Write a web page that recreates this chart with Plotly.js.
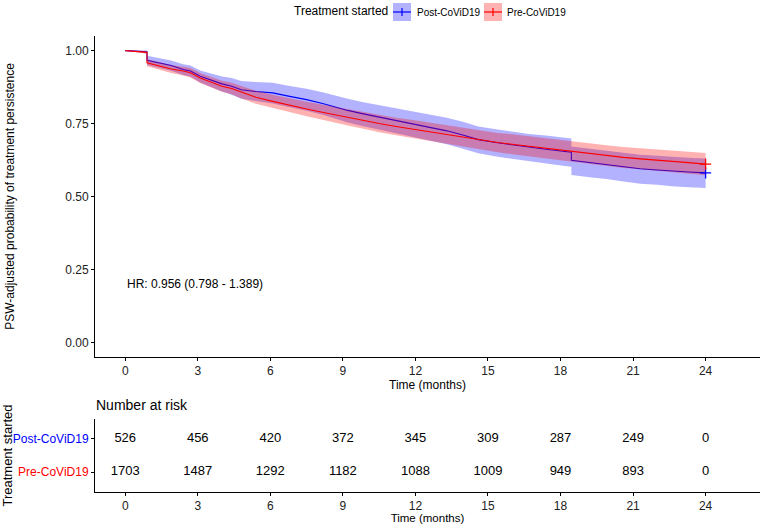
<!DOCTYPE html>
<html>
<head>
<meta charset="utf-8">
<script src="https://cdn.plot.ly/plotly-3.0.1.min.js"></script>
<style>html,body{margin:0;padding:0;background:#fff;}#chart{width:762px;height:524px;}</style>
</head>
<body>
<div id="chart"></div>
<script>
// ---- Data ----
var groups = ['Post-CoViD19', 'Pre-CoViD19'];
var timeMonths = [0, 0.5, 0.9, 0.9, 1.3, 1.9, 2.4, 2.7, 3.1, 3.5, 4.0, 4.4, 4.8, 5.4, 6.1, 6.8, 7.5, 8.2, 8.6, 9.2, 9.8, 10.5, 11.2, 11.9, 12.6, 13.3, 14.0, 14.6, 15.4, 16.0, 16.7, 17.4, 18.1, 18.45, 18.45, 19.2, 19.9, 20.6, 21.3, 22.0, 22.6, 23.3, 24.0];

var postSurv  = [1.000, 0.998, 0.996, 0.967, 0.960, 0.949, 0.935, 0.930, 0.912, 0.900, 0.886, 0.878, 0.866, 0.860, 0.855, 0.843, 0.832, 0.818, 0.808, 0.795, 0.784, 0.772, 0.761, 0.750, 0.738, 0.725, 0.710, 0.695, 0.684, 0.677, 0.668, 0.662, 0.655, 0.652, 0.624, 0.616, 0.610, 0.602, 0.595, 0.591, 0.587, 0.584, 0.581];
var postUpper = [1.000, 1.000, 1.000, 0.982, 0.976, 0.966, 0.953, 0.949, 0.932, 0.922, 0.911, 0.906, 0.896, 0.892, 0.890, 0.879, 0.869, 0.856, 0.847, 0.835, 0.824, 0.813, 0.803, 0.793, 0.782, 0.770, 0.755, 0.740, 0.730, 0.723, 0.714, 0.709, 0.702, 0.699, 0.671, 0.664, 0.658, 0.650, 0.643, 0.640, 0.636, 0.633, 0.630];
var postLower = [1.000, 0.994, 0.990, 0.951, 0.943, 0.931, 0.916, 0.910, 0.891, 0.877, 0.860, 0.849, 0.835, 0.827, 0.819, 0.806, 0.794, 0.779, 0.768, 0.754, 0.742, 0.729, 0.717, 0.705, 0.692, 0.679, 0.663, 0.648, 0.636, 0.629, 0.619, 0.613, 0.605, 0.602, 0.574, 0.566, 0.560, 0.551, 0.544, 0.540, 0.535, 0.532, 0.529];

var preSurv  = [1.000, 0.997, 0.994, 0.958, 0.950, 0.937, 0.930, 0.924, 0.906, 0.893, 0.878, 0.870, 0.857, 0.840, 0.826, 0.812, 0.800, 0.788, 0.781, 0.771, 0.762, 0.750, 0.740, 0.731, 0.722, 0.713, 0.703, 0.694, 0.685, 0.679, 0.672, 0.665, 0.659, 0.655, 0.655, 0.646, 0.640, 0.634, 0.629, 0.625, 0.621, 0.616, 0.611];
var preUpper = [1.000, 1.000, 0.999, 0.970, 0.963, 0.951, 0.945, 0.940, 0.923, 0.911, 0.897, 0.890, 0.878, 0.862, 0.849, 0.836, 0.825, 0.814, 0.808, 0.799, 0.791, 0.780, 0.770, 0.762, 0.753, 0.745, 0.735, 0.727, 0.718, 0.713, 0.706, 0.699, 0.694, 0.690, 0.690, 0.681, 0.676, 0.670, 0.665, 0.662, 0.658, 0.653, 0.649];
var preLower = [1.000, 0.993, 0.989, 0.946, 0.937, 0.923, 0.915, 0.908, 0.889, 0.875, 0.859, 0.850, 0.836, 0.818, 0.803, 0.788, 0.775, 0.762, 0.754, 0.743, 0.733, 0.720, 0.710, 0.700, 0.691, 0.681, 0.671, 0.661, 0.652, 0.645, 0.638, 0.631, 0.624, 0.620, 0.620, 0.611, 0.604, 0.598, 0.593, 0.588, 0.584, 0.579, 0.573];

var censorTime = [24];
var postCensor = [0.581];
var preCensor = [0.611];

var riskTimes = [0, 3, 6, 9, 12, 15, 18, 21, 24];
var postRisk = [526, 456, 420, 372, 345, 309, 287, 249, 0];
var preRisk = [1703, 1487, 1292, 1182, 1088, 1009, 949, 893, 0];

var yTickVals = [0, 0.25, 0.5, 0.75, 1];
var yTickText = ['0.00', '0.25', '0.50', '0.75', '1.00'];
var hrText = 'HR: 0.956 (0.798 - 1.389)';

// ---- Styling ----
var FONT = 'Liberation Sans, Arial, sans-serif';
var BLUE = '#0000FF', RED = '#FF0000';
var BLUE_FILL = 'rgba(0,0,255,0.3)', RED_FILL = 'rgba(255,0,0,0.3)';

function band(up, lo, fill) {
  return [
    {x: timeMonths, y: up, type: 'scatter', mode: 'lines', line: {width: 0}, hoverinfo: 'skip', showlegend: false, xaxis: 'x', yaxis: 'y'},
    {x: timeMonths, y: lo, type: 'scatter', mode: 'lines', line: {width: 0}, fill: 'tonexty', fillcolor: fill, hoverinfo: 'skip', showlegend: false, xaxis: 'x', yaxis: 'y'}
  ];
}
function curve(s, color, name) {
  return {x: timeMonths, y: s, type: 'scatter', mode: 'lines', name: name, line: {color: color, width: 1.1}, showlegend: false, xaxis: 'x', yaxis: 'y'};
}
function censor(y, color) {
  return {x: censorTime, y: y, type: 'scatter', mode: 'markers', marker: {symbol: 'cross-thin', size: 8, line: {color: color, width: 1.3}}, showlegend: false, xaxis: 'x', yaxis: 'y'};
}

var rowPos = {'Post-CoViD19': 2, 'Pre-CoViD19': 1};
var data = [].concat(
  band(postUpper, postLower, BLUE_FILL),
  [curve(postSurv, BLUE, groups[0])],
  band(preUpper, preLower, RED_FILL),
  [curve(preSurv, RED, groups[1])],
  [censor(postCensor, BLUE), censor(preCensor, RED)],
  [
    {x: riskTimes, y: riskTimes.map(function(){return rowPos[groups[0]];}), text: postRisk.map(String), type: 'scatter', mode: 'text', textfont: {family: FONT, size: 13, color: '#000'}, showlegend: false, hoverinfo: 'skip', xaxis: 'x2', yaxis: 'y2'},
    {x: riskTimes, y: riskTimes.map(function(){return rowPos[groups[1]];}), text: preRisk.map(String), type: 'scatter', mode: 'text', textfont: {family: FONT, size: 13, color: '#000'}, showlegend: false, hoverinfo: 'skip', xaxis: 'x2', yaxis: 'y2'}
  ]
);

function makeX(anchor, titleSize, standoff) {
  return {
    anchor: anchor, domain: [0, 1],
    range: [-1.25, 26.25], tickvals: riskTimes, ticktext: riskTimes.map(String),
    ticks: 'outside', ticklen: 3, tickwidth: 1, tickcolor: '#000',
    showline: true, linecolor: '#000', linewidth: 1, zeroline: false, showgrid: false,
    tickfont: {family: FONT, size: 12, color: '#222'},
    title: {text: 'Time (months)', font: {family: FONT, size: titleSize, color: '#000'}, standoff: standoff}
  };
}

// paper-coordinate helpers for the legend
function px(x) { return (x - 95) / 665; }
function py(y) { return (492 - y) / 456; }

var shapes = [
  {type: 'rect', xref: 'paper', yref: 'paper', x0: px(393), x1: px(411), y0: py(21), y1: py(3), fillcolor: BLUE_FILL, line: {width: 0}},
  {type: 'line', xref: 'paper', yref: 'paper', x0: px(393), x1: px(411), y0: py(12), y1: py(12), line: {color: BLUE, width: 1.2}},
  {type: 'line', xref: 'paper', yref: 'paper', x0: px(402), x1: px(402), y0: py(16), y1: py(8), line: {color: BLUE, width: 1.2}},
  {type: 'rect', xref: 'paper', yref: 'paper', x0: px(484), x1: px(502), y0: py(21), y1: py(3), fillcolor: RED_FILL, line: {width: 0}},
  {type: 'line', xref: 'paper', yref: 'paper', x0: px(484), x1: px(502), y0: py(12), y1: py(12), line: {color: RED, width: 1.2}},
  {type: 'line', xref: 'paper', yref: 'paper', x0: px(493), x1: px(493), y0: py(16), y1: py(8), line: {color: RED, width: 1.2}}
];

var annotations = [
  {xref: 'paper', yref: 'paper', x: px(292), y: py(11), xanchor: 'left', yanchor: 'middle', text: 'Treatment started', showarrow: false, font: {family: FONT, size: 12, color: '#000'}},
  {xref: 'paper', yref: 'paper', x: px(415), y: py(12), xanchor: 'left', yanchor: 'middle', text: groups[0], showarrow: false, font: {family: FONT, size: 10, color: '#000'}},
  {xref: 'paper', yref: 'paper', x: px(505), y: py(12), xanchor: 'left', yanchor: 'middle', text: groups[1], showarrow: false, font: {family: FONT, size: 10, color: '#000'}},
  {xref: 'x', yref: 'y', x: 0, y: 0.2, xanchor: 'left', yanchor: 'middle', text: hrText, showarrow: false, font: {family: FONT, size: 12, color: '#000'}},
  {xref: 'paper', yref: 'paper', x: px(94), y: py(405), xanchor: 'left', yanchor: 'middle', text: 'Number at risk', showarrow: false, font: {family: FONT, size: 14, color: '#000'}}
];

var layout = {
  width: 762, height: 524,
  margin: {l: 95, r: 2, t: 36, b: 32},
  paper_bgcolor: '#fff', plot_bgcolor: '#fff',
  font: {family: FONT, color: '#000'},
  showlegend: false,
  xaxis: makeX('y', 12, 3),
  yaxis: {
    anchor: 'x', domain: [py(357), 1], range: [-0.05, 1.05],
    tickvals: yTickVals, ticktext: yTickText,
    ticks: 'outside', ticklen: 3, tickwidth: 1, tickcolor: '#000',
    showline: true, linecolor: '#000', linewidth: 1, zeroline: false, showgrid: false,
    tickfont: {family: FONT, size: 12, color: '#222'},
    title: {text: 'PSW-adjusted probability of treatment persistence', font: {family: FONT, size: 12, color: '#000'}, standoff: 48}
  },
  xaxis2: makeX('y2', 11.5, 4),
  yaxis2: {
    anchor: 'x2', domain: [0, py(419)], range: [0.4, 2.6],
    tickvals: [rowPos[groups[1]], rowPos[groups[0]]],
    ticktext: ['<span style="color:' + RED + '">' + groups[1] + '</span>', '<span style="color:' + BLUE + '">' + groups[0] + '</span>'],
    ticks: 'outside', ticklen: 3, tickwidth: 1, tickcolor: '#000',
    showline: true, linecolor: '#000', linewidth: 1, zeroline: false, showgrid: false,
    tickfont: {family: FONT, size: 12},
    title: {text: 'Treatment started', font: {family: FONT, size: 13, color: '#000'}, standoff: 1}
  },
  shapes: shapes,
  annotations: annotations
};

Plotly.newPlot('chart', data, layout, {displayModeBar: false, staticPlot: true});
</script>
</body>
</html>
